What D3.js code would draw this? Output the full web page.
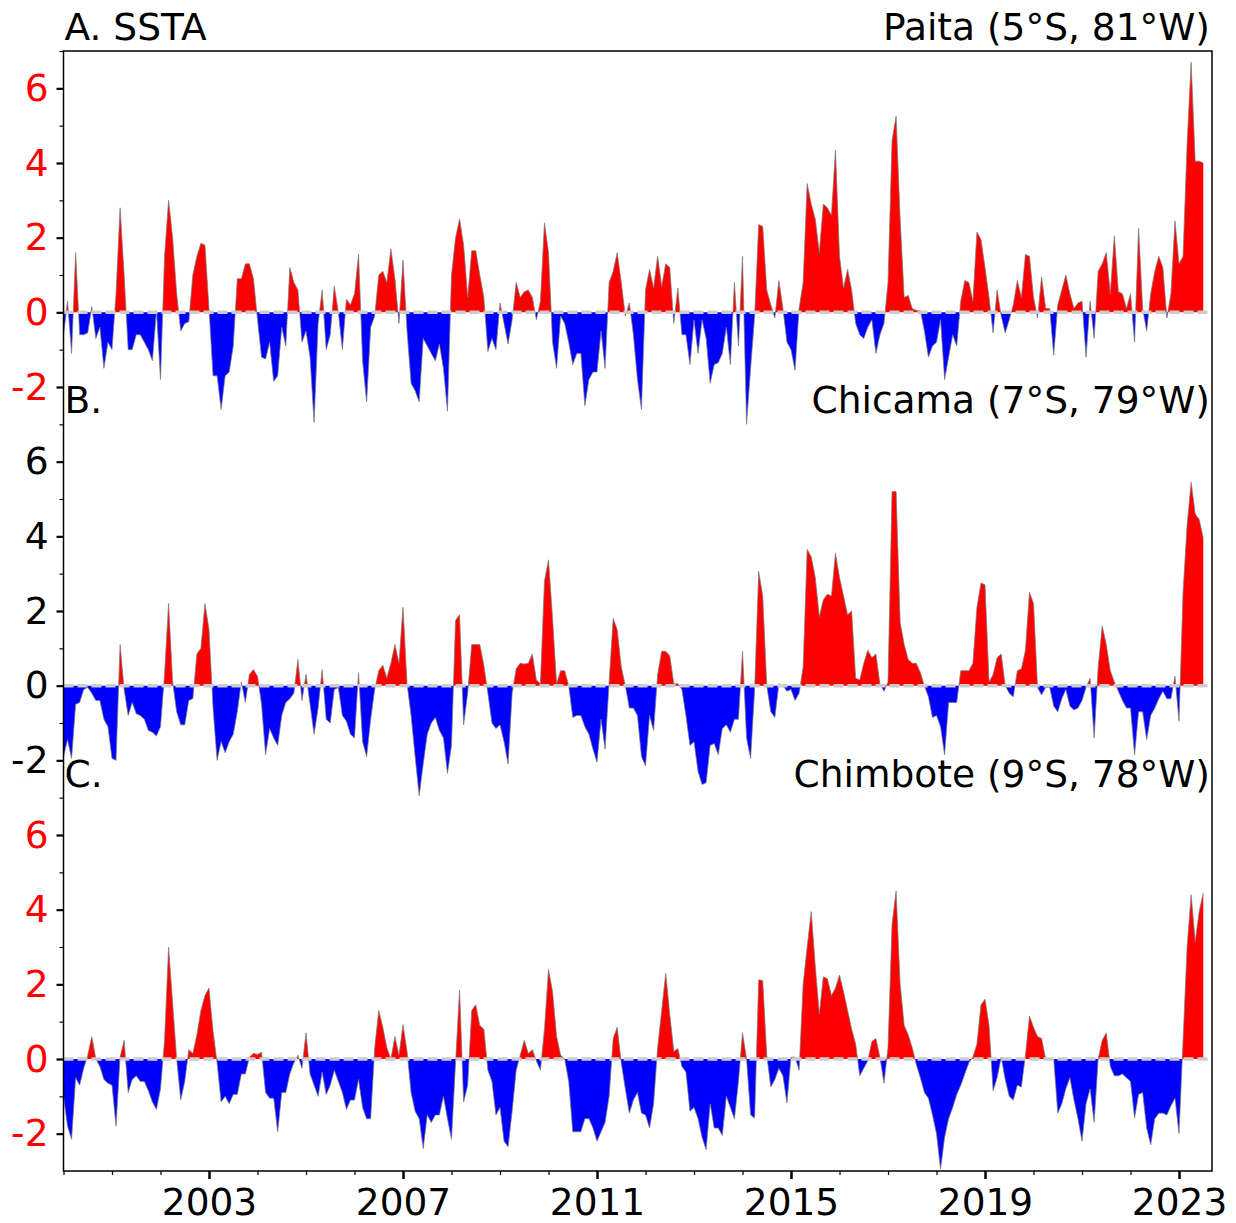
<!DOCTYPE html>
<html>
<head>
<meta charset="utf-8">
<script src="https://cdn.jsdelivr.net/npm/d3@7/dist/d3.min.js"></script>
<style>
  body { margin: 0; background: #fff; }
  text { font-family: "DejaVu Sans", sans-serif; }
</style>
</head>
<body>
<svg id="chart" width="1236" height="1223"></svg>
<script>
"use strict"

// monthly SST anomalies, first value = Jan 2000
const startYear = 2000;

const paita = [
  -0.6, 0.3, -1.1, 1.6, -0.6, -0.6, -0.55, 0.15, -0.7, -0.4, -1.5, -0.8,
  -1.0, 0.5, 2.8, 1.0, -1.0, -1.0, -0.6, -0.6, -0.8, -1.0, -1.3, 0.05,
  -1.8, 1.5, 3.0, 2.0, 0.5, -0.5, -0.3, -0.25, 1.0, 1.5, 1.85, 1.8,
  0.1, -1.7, -1.7, -2.6, -1.7, -1.6, -0.9, 0.9, 0.9, 1.3, 1.3, 0.9,
  -0.2, -1.2, -1.25, -0.8, -1.85, -1.7, -0.4, -0.9, 1.2, 0.8, 0.6, -0.8,
  -0.5, -1.2, -2.95, -0.3, 0.6, -1.0, -0.6, 0.7, 0.0, -1.0, 0.35, 0.2,
  0.5, 1.55, -1.3, -2.4, -0.4, -0.1, 1.0, 1.1, 0.8, 1.7, 0.9, -0.3,
  1.4, -0.5, -1.9, -2.1, -2.4, -0.7, -0.9, -1.1, -1.3, -0.85, -1.5, -2.65,
  1.0, 2.0, 2.5, 1.8, 0.4, 1.65, 1.65, 1.0, 0.4, -1.05, -0.7, -1.0,
  0.25, -0.3, -0.85, -0.2, 0.8, 0.4, 0.55, 0.6, 0.4, -0.2, 0.3, 2.4,
  1.6, -0.8, -1.5, -0.1, -0.3, -0.8, -1.4, -1.1, -1.1, -2.5, -1.8, -1.6,
  -1.6, -0.5, -1.5, 0.8, 1.1, 1.6, 0.8, -0.1, 0.25, -0.6, -1.8, -2.6,
  0.6, 1.15, 0.65, 1.5, 0.7, 1.3, 1.2, -0.3, 0.65, -0.6, -0.6, -1.4,
  -0.2, -1.1, -0.2, -0.7, -1.9, -1.4, -1.35, -1.1, -0.4, -1.4, 0.8, -0.9,
  1.5, -3.0, -1.5, -0.1, 2.35, 2.3, 0.6, 0.2, -0.15, 0.85, 0.1, -0.8,
  -1.0, -1.55, 0.1, 0.8, 3.45, 2.9, 2.5, 1.6, 2.9, 2.8, 2.6, 4.35,
  1.5, 0.65, 1.15, 0.6, -0.3, -0.6, -0.7, -0.4, -0.2, -1.1, -0.6, -0.3,
  0.8, 4.6, 5.25, 2.5, 0.4, 0.45, 0.1, 0.05, 0.05, -0.5, -1.2, -0.9,
  -0.8, -0.2, -1.8, -1.2, -0.6, -0.9, 0.3, 0.85, 0.8, 0.3, 2.15, 1.95,
  1.2, 0.4, -0.55, 0.6, -0.1, -0.55, -0.2, 0.2, 0.85, 0.4, 1.55, 1.5,
  0.4, -0.15, 0.95, 0.1, 0.1, -1.15, 0.2, 0.6, 1.0, 0.5, 0.1, 0.25,
  0.3, -1.2, 0.3, -0.7, 1.1, 1.3, 1.6, 0.5, 2.05, 0.55, 0.5, 0.1,
  0.5, -0.8, 2.25, 0.1, -0.5, 0.5, 1.1, 1.5, 1.2, -0.15, 0.5, 2.45,
  1.3, 1.5, 4.5, 6.7, 4.05, 4.05, 4.0
];

const chicama = [
  -1.9, -1.45, -1.95, -0.5, -0.45, -0.1, -0.05, -0.2, -0.4, -0.4, -0.9, -1.1,
  -1.95, -2.0, 1.1, -0.1, -0.8, -0.45, -0.75, -0.8, -0.9, -1.2, -1.25, -1.35,
  -1.1, 0.3, 2.2, 0.1, -0.7, -1.05, -1.05, -0.4, -0.35, 0.85, 1.0, 2.2,
  1.5, -0.6, -2.0, -1.5, -1.8, -1.5, -1.3, -0.7, 0.1, -0.45, 0.3, 0.43,
  0.25, -0.5, -1.85, -1.15, -1.4, -1.6, -0.8, -0.45, -0.35, -0.2, 0.7, -0.4,
  0.3, -0.5, -1.3, -0.6, 0.43, -0.9, -1.0, -0.1, -0.05, -0.8, -0.95, -1.3,
  -1.4, 0.35, -1.5, -1.9, -0.9, -0.1, 0.4, 0.55, 0.2, 0.6, 1.1, 0.6,
  2.1, 0.05, -0.8, -1.9, -2.95, -2.1, -1.3, -1.0, -0.85, -1.2, -1.4, -2.35,
  -1.6, 1.75, 1.9, -1.05, -0.2, 1.1, 1.1, 1.1, 0.55, -0.2, -1.0, -1.15,
  -1.05, -1.5, -2.1, -0.2, 0.45, 0.6, 0.58, 0.6, 0.85, 0.15, 0.05, 2.8,
  3.37, 1.8, 0.05, 0.4, 0.4, 0.0, -0.85, -0.8, -0.8, -1.1, -1.3, -1.7,
  -2.05, -0.9, -1.7, 0.1, 1.8, 1.5, 0.5, 0.0, -0.6, -0.6, -0.8, -1.9,
  -2.15, -0.8, -1.2, 0.3, 0.92, 0.92, 0.8, 0.05, 0.05, -0.1, -0.8, -1.6,
  -1.5, -2.3, -2.65, -2.6, -1.6, -1.55, -1.85, -1.15, -1.05, -1.25, -0.9, -0.9,
  0.92, -1.4, -1.95, -0.1, 3.06, 2.4, 0.0, -0.7, -0.85, 0.05, 0.0, -0.15,
  -0.1, -0.4, -0.2, 0.5, 3.65, 3.45, 2.9, 1.85, 2.3, 2.45, 2.4, 3.55,
  2.9, 2.4, 1.9, 2.0, 0.2, 0.15, 0.6, 0.95, 0.75, 0.85, 0.05, -0.15,
  0.1, 5.2, 5.2, 1.7, 1.1, 0.7, 0.6, 0.6, 0.35, 0.0, -0.3, -0.85,
  -0.8, -1.1, -1.85, -0.45, -0.45, -0.45, 0.4, 0.4, 0.4, 0.6, 2.1, 2.75,
  2.7, 0.1, 0.3, 0.75, 0.85, 0.0, -0.2, -0.3, 0.4, 0.45, 0.95, 2.5,
  2.2, -0.05, -0.25, -0.05, -0.05, -0.55, -0.7, -0.35, -0.1, -0.55, -0.65, -0.6,
  -0.4, -0.05, 0.2, -1.4, 0.5, 1.6, 1.1, 0.4, 0.1, -0.15, -0.4, -0.6,
  -0.6, -1.85, -0.7, -0.7, -1.45, -0.8, -0.6, -0.35, -0.15, -0.35, -0.35, 0.25,
  -0.95, 2.5, 4.3, 5.45, 4.6, 4.45, 3.95
];

const chimbote = [
  -1.0, -1.8, -2.15, -0.5, -0.7, -0.25, 0.1, 0.6, 0.0, -0.2, -0.55, -0.65,
  -0.7, -1.8, 0.05, 0.5, -0.9, -0.55, -0.45, -0.6, -0.6, -0.85, -1.15, -1.35,
  -0.8, 0.5, 3.0, 1.5, 0.0, -1.1, -0.6, 0.25, 0.15, 0.65, 1.3, 1.7,
  1.9, 0.75, -0.1, -1.15, -1.0, -1.2, -0.95, -0.95, -0.4, -0.4, 0.05, 0.15,
  0.12, 0.18, -0.9, -1.05, -1.05, -1.95, -0.9, -0.9, -0.4, -0.1, 0.1, -0.25,
  0.7, -0.4, -0.7, -1.0, -0.35, -0.95, -0.7, -0.3, -0.6, -0.9, -1.35, -1.1,
  -1.1, -0.55, -1.3, -1.6, -1.6, 0.3, 1.3, 0.85, 0.3, 0.0, 0.6, 0.1,
  0.92, 0.2, -0.9, -1.4, -1.6, -2.4, -1.5, -1.7, -1.5, -1.5, -1.0, -1.6,
  -2.15, -0.1, 1.85, -1.15, -0.7, 1.3, 1.45, 0.9, 0.8, -0.3, -0.6, -1.5,
  -1.3, -2.2, -2.35, -1.4, -0.3, 0.1, 0.5, 0.15, 0.25, -0.05, -0.3, 0.8,
  2.4, 1.8, 0.6, 0.1, 0.0, -0.6, -1.95, -1.95, -1.95, -1.6, -1.6, -1.85,
  -2.2, -1.95, -1.7, -1.0, 0.55, 0.85, -0.1, -0.8, -1.45, -1.1, -0.9, -1.45,
  -1.5, -1.85, -1.2, 0.3, 1.3, 2.3, 1.2, 0.2, 0.28, -0.2, -0.35, -1.4,
  -1.3, -1.6, -2.1, -2.43, -1.2, -1.85, -1.85, -2.05, -1.0, -1.3, -1.6, -0.6,
  0.7, 0.0, -1.5, -1.58, 2.12, 2.1, 0.1, -0.75, -0.55, -0.25, -0.45, -1.18,
  0.05, 0.05, -0.3, 2.0, 3.0, 3.95, 2.5, 1.2, 2.2, 2.15, 1.7, 1.9,
  2.25, 1.8, 1.3, 0.8, 0.4, -0.45, -0.25, -0.05, 0.47, 0.55, 0.05, -0.65,
  0.3, 3.6, 4.5, 2.0, 0.9, 0.65, 0.3, -0.15, -0.5, -0.9, -1.05, -1.5,
  -2.0, -2.95, -2.1, -1.6, -1.3, -0.95, -0.7, -0.4, -0.1, 0.05, 0.4, 1.45,
  1.6, 0.9, -0.85, -0.5, 0.05, -0.55, -1.0, -1.1, -0.7, -0.75, 0.1, 1.15,
  0.85, 0.6, 0.55, 0.0, -0.02, 0.0, -1.45, -1.2, -0.8, -0.5, -1.1, -1.6,
  -2.2, -1.2, -0.8, -1.7, 0.0, 0.5, 0.7, -0.2, -0.45, -0.45, -0.4, -0.5,
  -0.6, -1.58, -0.95, -0.9, -1.85, -2.3, -1.6, -1.45, -1.45, -1.5, -1.25, -1.05,
  -2.0, 0.5, 3.0, 4.4, 3.15, 3.95, 4.45
];

const yMajorTicks = [-2, 0, 2, 4, 6];
const yMinorTicks = [-1, 1, 3, 5, 7];
const yearMajorTicks = [2003, 2007, 2011, 2015, 2019, 2023];
const yearMinorTicks = d3.range(2000, 2024);

const panels = [
  { label: "A. SSTA", site: "Paita (5°S, 81°W)", values: paita, tickColor: "#ff0000" },
  { label: "B.", site: "Chicama (7°S, 79°W)", values: chicama, tickColor: "#000000" },
  { label: "C.", site: "Chimbote (9°S, 78°W)", values: chimbote, tickColor: "#ff0000" }
];

const plotLeft = 63.5, plotRight = 1212, plotTop = 51, plotBottom = 1171;
const panelH = (plotBottom - plotTop) / panels.length;
const fontSize = "37.5px";

const svg = d3.select("#chart");

const x = d3.scaleLinear()
  .domain([2000, 2023.68])
  .range([plotLeft, plotRight]);

// add zero crossings so the red and blue areas meet cleanly at 0
function withCrossings(values) {
  let pts = [];
  for (let i = 0; i < values.length; i++) {
    let t = startYear + i / 12;
    if (i > 0) {
      let a = values[i - 1], b = values[i];
      if ((a > 0 && b < 0) || (a < 0 && b > 0)) {
        let f = a / (a - b);
        pts.push({ t: t - (1 - f) / 12, v: 0 });
      }
    }
    pts.push({ t: t, v: values[i] });
  }
  return pts;
}

panels.forEach(function(p, k) {
  let y0 = plotTop + k * panelH;
  let y = d3.scaleLinear()
    .domain([-3, 7])
    .range([y0 + panelH, y0]);

  let g = svg.append("g");
  let pts = withCrossings(p.values);

  let pos = d3.area()
    .x(d => x(d.t))
    .y0(y(0))
    .y1(d => y(Math.max(d.v, 0)));
  let neg = d3.area()
    .x(d => x(d.t))
    .y0(y(0))
    .y1(d => y(Math.min(d.v, 0)));
  let line = d3.line()
    .x(d => x(d.t))
    .y(d => y(d.v));

  g.append("path")
    .datum(pts)
    .attr("d", pos)
    .style("fill", "#ff0000");

  g.append("path")
    .datum(pts)
    .attr("d", neg)
    .style("fill", "#0000ff");

  g.append("path")
    .datum(pts)
    .attr("d", line)
    .style("fill", "none")
    .style("stroke", "#7a7a7a")
    .style("stroke-width", 0.9)
    .style("opacity", 0.8);

  // dashed zero line
  g.append("line")
    .attr("x1", x(startYear))
    .attr("x2", x(startYear + (p.values.length - 1) / 12) + 8)
    .attr("y1", y(0))
    .attr("y2", y(0))
    .style("stroke", "#cccccc")
    .style("stroke-width", 3.5)
    .style("stroke-dasharray", "10,4");

  // y axis, major and minor ticks
  let yAxis = g.append("g")
    .attr("transform", "translate(" + plotLeft + ",0)")
    .call(d3.axisLeft(y).tickValues(yMajorTicks).tickSize(7).tickPadding(8)
      .tickFormat(d => d < 0 ? "-" + Math.abs(d) : d));
  yAxis.select(".domain").remove();
  yAxis.selectAll(".tick line").style("stroke", "#000").style("stroke-width", 2.2);
  yAxis.selectAll(".tick text")
    .style("font-size", fontSize)
    .style("font-family", "DejaVu Sans")
    .style("fill", p.tickColor);

  let yMinor = g.append("g")
    .attr("transform", "translate(" + plotLeft + ",0)")
    .call(d3.axisLeft(y).tickValues(yMinorTicks).tickSize(4).tickFormat(""));
  yMinor.select(".domain").remove();
  yMinor.selectAll(".tick line").style("stroke", "#000").style("stroke-width", 1.2);

  g.append("text")
    .attr("x", plotLeft + 1)
    .attr("y", y0 - 11)
    .style("font-size", fontSize)
    .text(p.label);

  g.append("text")
    .attr("x", plotRight - 2)
    .attr("y", y0 - 11)
    .attr("text-anchor", "end")
    .style("font-size", fontSize)
    .text(p.site);
});

// x axis at the bottom
let xAxis = svg.append("g")
  .attr("transform", "translate(0," + plotBottom + ")")
  .call(d3.axisBottom(x).tickValues(yearMajorTicks).tickSize(8).tickPadding(9).tickFormat(d3.format("d")));
xAxis.select(".domain").remove();
xAxis.selectAll(".tick line").style("stroke", "#000").style("stroke-width", 2.5);
xAxis.selectAll(".tick text")
  .style("font-size", fontSize)
  .style("font-family", "DejaVu Sans")
  .style("fill", "#000");

let xMinor = svg.append("g")
  .attr("transform", "translate(0," + plotBottom + ")")
  .call(d3.axisBottom(x).tickValues(yearMinorTicks.filter(v => yearMajorTicks.indexOf(v) < 0)).tickSize(4).tickFormat(""));
xMinor.select(".domain").remove();
xMinor.selectAll(".tick line").style("stroke", "#000").style("stroke-width", 1.2);

// frame
svg.append("rect")
  .attr("x", plotLeft)
  .attr("y", plotTop)
  .attr("width", plotRight - plotLeft)
  .attr("height", plotBottom - plotTop)
  .style("fill", "none")
  .style("stroke", "#000")
  .style("stroke-width", 1.5);
</script>
</body>
</html>
